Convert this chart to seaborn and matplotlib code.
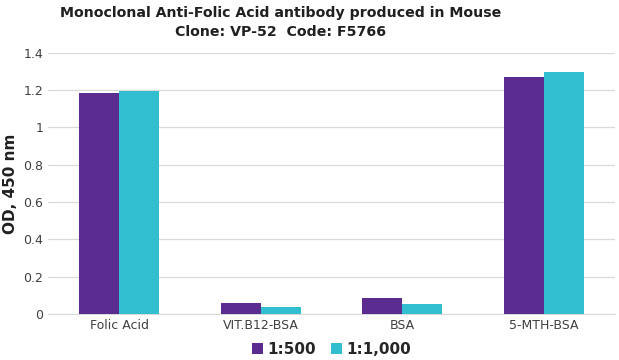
import pandas as pd
import matplotlib.pyplot as plt
import seaborn as sns

# Dane
antigens = ['Folic Acid', 'VIT.B12-BSA', 'BSA', '5-MTH-BSA']
od_500 = [1.186, 0.060, 0.086, 1.27]
od_1000 = [1.196, 0.037, 0.052, 1.30]
dilutions = ['1:500', '1:1,000']
colors = ['#5B2C8F', '#31BECE']

df = pd.DataFrame({
    'antigen': antigens * 2,
    'od': od_500 + od_1000,
    'dilution': [dilutions[0]] * 4 + [dilutions[1]] * 4,
})

sns.set_style('white')
plt.rcParams['font.family'] = ['DejaVu Sans']

fig = plt.figure(figsize=(6.19, 3.6), dpi=100)
ax = fig.add_axes([0.078, 0.128, 0.915, 0.725])
sns.barplot(data=df, x='antigen', y='od', hue='dilution', palette=colors,
            width=0.565, gap=0, saturation=1, linewidth=0, ax=ax, zorder=3)

ax.set_ylim(0, 1.4)
ax.set_yticks([0, 0.2, 0.4, 0.6, 0.8, 1.0, 1.2, 1.4])
ax.set_yticklabels(['0', '0.2', '0.4', '0.6', '0.8', '1', '1.2', '1.4'])
ax.set_xlim(-0.5, 3.5)
ax.grid(axis='y', color='#d9d9d9', linewidth=0.9, zorder=0)
ax.tick_params(axis='both', labelsize=9, colors='#404040', length=0)
for s in ['top', 'right', 'left']:
    ax.spines[s].set_visible(False)
ax.spines['bottom'].set_color('#d9d9d9')
ax.set_xlabel('')
ax.set_ylabel('OD, 450 nm', fontsize=11, fontweight='bold', color='#202020')

fig.text(0.453, 0.937, 'Monoclonal Anti-Folic Acid antibody produced in Mouse\nClone: VP-52  Code: F5766',
         fontsize=10.2, fontweight='bold', color='#202020', ha='center', va='center',
         linespacing=1.45)

handles, labels = ax.get_legend_handles_labels()
ax.legend(handles, labels, loc='center', bbox_to_anchor=(0.5, -0.135), ncol=2,
          frameon=False, handlelength=0.7, handleheight=0.7, handletextpad=0.3,
          columnspacing=1.0, prop={'size': 11, 'weight': 'bold'})

plt.savefig('out.png', dpi=100)
